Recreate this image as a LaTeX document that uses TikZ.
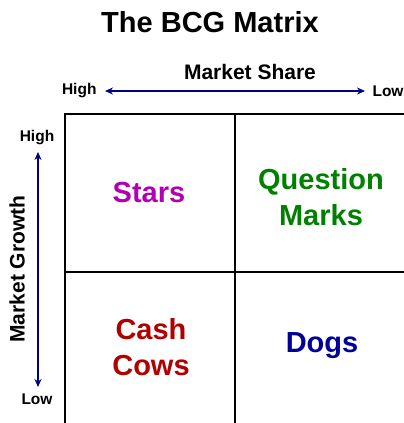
\documentclass[tikz,border=0pt]{standalone}
\usepackage{fontspec}
\setmainfont{Liberation Sans}
\usepackage{xcolor}
\usetikzlibrary{arrows.meta,positioning}
\definecolor{starcol}{HTML}{B000B0}
\definecolor{markcol}{HTML}{007F00}
\definecolor{cowcol}{HTML}{B00000}
\definecolor{dogcol}{HTML}{000099}
\definecolor{axiscol}{HTML}{000080}

\begin{document}
\begin{tikzpicture}[
  x=1pt, y=-1pt,
  every node/.style={font=\bfseries},
  axis/.style={{Stealth[length=8pt,width=7pt]}-{Stealth[length=8pt,width=7pt]}, line width=1.8pt, axiscol},
  grid/.style={line width=1.5pt, black},
  quad/.style={font=\fontsize{29}{36}\selectfont\bfseries, align=center},
  lab/.style={font=\fontsize{15.5}{18}\selectfont\bfseries},
  head/.style={font=\fontsize{21}{24}\selectfont\bfseries}
]
  \useasboundingbox (0,0) rectangle (404,423);

  % title
  \node[font=\fontsize{29}{34}\selectfont\bfseries] (title) at (210,22) {The BCG Matrix};

  % market share axis
  \node[head] (share) at (250,72) {Market Share};
  \node[lab, anchor=east] (shareHigh) at (100,91) {High};
  \node[lab, anchor=west] (shareLow) at (369,91) {Low};
  \coordinate (sh) at (105,91);
  \coordinate (sl) at (365,91);
  \draw[axis] (sh) -- (sl);

  % market growth axis
  \node[head, rotate=90] (growth) at (17,269) {Market Growth};
  \node[lab] (growthHigh) at (37,138) {High};
  \node[lab] (growthLow) at (37,399) {Low};
  \coordinate (gh) at (38,152);
  \coordinate (gl) at (38,387);
  \draw[axis] (gh) -- (gl);

  % matrix grid
  \draw[grid] (65,423) -- (65,114) -- (404,114);
  \draw[grid] (235,114) -- (235,423);
  \draw[grid] (65,272) -- (404,272);

  % quadrants
  \node[quad, starcol] (stars) at (149,193) {Stars};
  \node[quad, markcol] (qmarks) at (321,197) {Question\\Marks};
  \node[quad, cowcol] (cows) at (151,347) {Cash\\Cows};
  \node[quad, dogcol] (dogs) at (322,346) {Dogs};
\end{tikzpicture}
\end{document}
